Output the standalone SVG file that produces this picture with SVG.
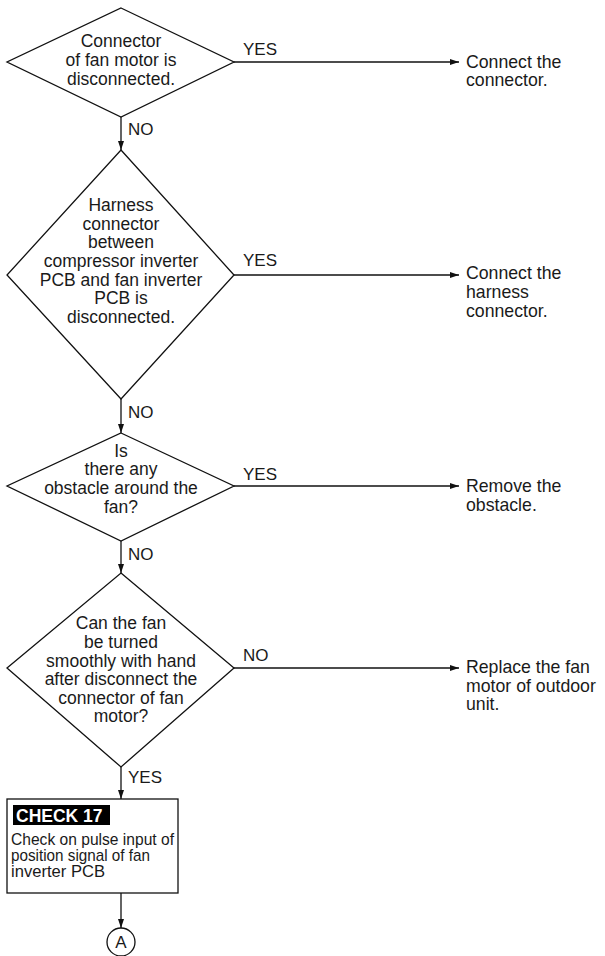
<svg xmlns="http://www.w3.org/2000/svg" width="605" height="956" viewBox="0 0 605 956">
<defs>
<marker id="arr" markerWidth="10" markerHeight="8" refX="9" refY="4" orient="auto" markerUnits="userSpaceOnUse">
<path d="M0,1 L9,4 L0,7 Z" fill="#111"/>
</marker>
</defs>
<style>
.shape{fill:#fff;stroke:#111;stroke-width:1.3}
.t{font-family:"Liberation Sans",Arial,sans-serif;font-size:17.5px;fill:#1a1a1a}
.r{font-size:17.7px}
.c{text-anchor:middle}
.lb{font-size:17px}
.b{font-size:17px}
.conn line{stroke:#111;stroke-width:1.3}
.hd{font-family:"Liberation Sans",Arial,sans-serif;font-size:17.5px;font-weight:bold;fill:#fff}
</style>
<rect width="605" height="956" fill="#fff"/>

<g id="d1">
<polygon class="shape" points="121,8 234,62 121,117 7,62"/>
<text class="t c" x="121" y="47">Connector</text>
<text class="t c" x="121" y="66">of fan motor is</text>
<text class="t c" x="121" y="85">disconnected.</text>
</g>
<g id="r1">
<text class="t r" x="466" y="68">Connect the</text>
<text class="t r" x="466" y="86">connector.</text>
</g>

<g id="d2">
<polygon class="shape" points="121,150 234,275 121,399 7,275"/>
<text class="t c" x="121" y="211">Harness</text>
<text class="t c" x="121" y="230">connector</text>
<text class="t c" x="121" y="248">between</text>
<text class="t c" x="121" y="267">compressor inverter</text>
<text class="t c" x="121" y="286">PCB and fan inverter</text>
<text class="t c" x="121" y="304">PCB is</text>
<text class="t c" x="121" y="323">disconnected.</text>
</g>
<g id="r2">
<text class="t r" x="466" y="279">Connect the</text>
<text class="t r" x="466" y="298">harness</text>
<text class="t r" x="466" y="317">connector.</text>
</g>

<g id="d3">
<polygon class="shape" points="121,433 234,486 121,541 7,486"/>
<text class="t c" x="121" y="457">Is</text>
<text class="t c" x="121" y="475">there any</text>
<text class="t c" x="121" y="494">obstacle around the</text>
<text class="t c" x="121" y="513">fan?</text>
</g>
<g id="r3">
<text class="t r" x="466" y="492">Remove the</text>
<text class="t r" x="466" y="511">obstacle.</text>
</g>

<g id="d4">
<polygon class="shape" points="121,573 234,668 121,767 7,668"/>
<text class="t c" x="121" y="629">Can the fan</text>
<text class="t c" x="121" y="648">be turned</text>
<text class="t c" x="121" y="667">smoothly with hand</text>
<text class="t c" x="121" y="685">after disconnect the</text>
<text class="t c" x="121" y="704">connector of fan</text>
<text class="t c" x="121" y="722">motor?</text>
</g>
<g id="r4">
<text class="t r" x="466" y="673">Replace the fan</text>
<text class="t r" x="466" y="692">motor of outdoor</text>
<text class="t r" x="466" y="710">unit.</text>
</g>

<g id="check17">
<rect class="shape" x="7" y="799" width="171" height="94"/>
<rect x="13" y="805" width="97" height="20" fill="#000"/>
<text class="hd" x="16" y="821.5">CHECK 17</text>
<text class="t b" x="11" y="845" textLength="163" lengthAdjust="spacingAndGlyphs">Check on pulse input of</text>
<text class="t b" x="11" y="861" textLength="139" lengthAdjust="spacingAndGlyphs">position signal of fan</text>
<text class="t b" x="11" y="877" textLength="94" lengthAdjust="spacingAndGlyphs">inverter PCB</text>
</g>

<g id="connA">
<circle class="shape" cx="121" cy="942" r="14"/>
<text class="t c lb" x="121" y="948">A</text>
</g>

<g id="connectors" class="conn">
<line x1="234" y1="62" x2="459" y2="62" marker-end="url(#arr)"/>
<line x1="121" y1="117" x2="121" y2="150" marker-end="url(#arr)"/>
<line x1="234" y1="275" x2="459" y2="275" marker-end="url(#arr)"/>
<line x1="121" y1="399" x2="121" y2="433" marker-end="url(#arr)"/>
<line x1="234" y1="486" x2="459" y2="486" marker-end="url(#arr)"/>
<line x1="121" y1="541" x2="121" y2="573" marker-end="url(#arr)"/>
<line x1="234" y1="668" x2="459" y2="668" marker-end="url(#arr)"/>
<line x1="121" y1="767" x2="121" y2="799" marker-end="url(#arr)"/>
<line x1="121" y1="893" x2="121" y2="928" marker-end="url(#arr)"/>
</g>
<g id="labels">
<text class="t lb" x="243" y="55">YES</text>
<text class="t lb" x="128" y="135">NO</text>
<text class="t lb" x="243" y="266">YES</text>
<text class="t lb" x="128" y="418">NO</text>
<text class="t lb" x="243" y="480">YES</text>
<text class="t lb" x="128" y="560">NO</text>
<text class="t lb" x="243" y="661">NO</text>
<text class="t lb" x="128" y="783">YES</text>
</g>
</svg>
